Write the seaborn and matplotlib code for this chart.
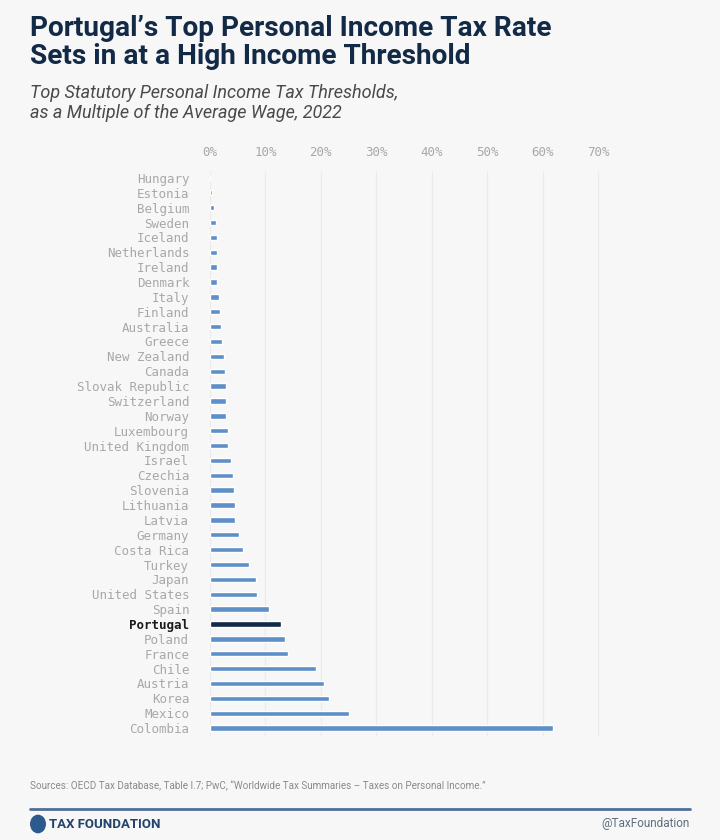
import matplotlib
matplotlib.use("Agg")
import matplotlib.pyplot as plt
import seaborn as sns
from matplotlib.patches import Circle
from matplotlib.lines import Line2D

# Top statutory PIT thresholds, top to bottom as in the chart
countries = [
    "Hungary", "Estonia", "Belgium", "Sweden", "Iceland", "Netherlands",
    "Ireland", "Denmark", "Italy", "Finland", "Australia", "Greece",
    "New Zealand", "Canada", "Slovak Republic", "Switzerland", "Norway",
    "Luxembourg", "United Kingdom", "Israel", "Czechia", "Slovenia",
    "Lithuania", "Latvia", "Germany", "Costa Rica", "Turkey", "Japan",
    "United States", "Spain", "Portugal", "Poland", "France", "Chile",
    "Austria", "Korea", "Mexico", "Colombia",
]
thresholds = [
    0.0, 0.3, 0.8, 1.1, 1.3, 1.3,
    1.2, 1.2, 1.6, 1.8, 1.9, 2.2,
    2.6, 2.7, 2.9, 2.9, 2.9,
    3.2, 3.2, 3.7, 4.1, 4.3,
    4.5, 4.6, 5.2, 6.0, 7.0, 8.3,
    8.5, 10.7, 12.9, 13.5, 14.0, 19.2,
    20.6, 21.5, 25.0, 61.9,
]
highlight = "Portugal"
x_ticks = [0, 10, 20, 30, 40, 50, 60, 70]
x_tick_labels = ["0%", "10%", "20%", "30%", "40%", "50%", "60%", "70%"]

BG = "#f7f7f7"
BAR = "#5f8fc8"
NAVY = "#132a47"
GRID = "#ebebeb"
LABEL = "#a8a8a8"

sns.set_theme(style="white")
plt.rcParams["font.family"] = ["Roboto", "DejaVu Sans"]

fig = plt.figure(figsize=(7.2, 8.4), dpi=100, facecolor=BG)
ax = fig.add_axes([210 / 720, 1 - 735.5 / 840, (609 - 210) / 720, (735.5 - 170.5) / 840])
ax.set_facecolor(BG)

palette = {c: (NAVY if c == highlight else BAR) for c in countries}
sns.barplot(x=thresholds, y=countries, hue=countries, palette=palette,
            legend=False, width=0.36, orient="h", saturation=1, ax=ax)

ax.set_xlim(0, 72)
ax.set_xticks(x_ticks)
ax.set_xticklabels(x_tick_labels)
ax.xaxis.tick_top()
ax.tick_params(axis="both", length=0, colors=LABEL, labelsize=9)
ax.tick_params(axis="x", pad=8)
ax.tick_params(axis="y", pad=15)
for lbl in ax.get_xticklabels() + ax.get_yticklabels():
    lbl.set_fontfamily("DejaVu Sans Mono")
    lbl.set_color(LABEL)
for lbl in ax.get_yticklabels():
    if lbl.get_text() == highlight:
        lbl.set_color("#1b1b1b")
        lbl.set_fontweight("bold")
ax.grid(axis="x", color=GRID, linewidth=0.9)
ax.set_axisbelow(True)
ax.set_xlabel("")
ax.set_ylabel("")
sns.despine(ax=ax, left=True, bottom=True, top=True, right=True)

# titles
fig.text(30 / 720, 1 - 15 / 840, "Portugal’s Top Personal Income Tax Rate\nSets in at a High Income Threshold",
         ha="left", va="top", fontsize=20.2, fontweight="bold", color=NAVY, linespacing=1.05)
fig.text(30 / 720, 1 - 84 / 840, "Top Statutory Personal Income Tax Thresholds,\nas a Multiple of the Average Wage, 2022",
         ha="left", va="top", fontsize=13, fontstyle="italic", color="#4a4a4a", linespacing=1.1)

# footer
fig.text(30 / 720, 1 - 786 / 840,
         "Sources: OECD Tax Database, Table I.7; PwC, \u201cWorldwide Tax Summaries \u2013 Taxes on Personal Income.\u201d",
         ha="left", va="center", fontsize=7.1, color="#8a8a8a")
fig.add_artist(Line2D([30 / 720, 690 / 720], [1 - 809 / 840, 1 - 809 / 840],
                      transform=fig.transFigure, color="#4f6f98", linewidth=2))
fig.add_artist(Circle((38 / 720, 1 - 824 / 840), 8 / 720, transform=fig.transFigure,
                      facecolor="#2d5a8c", edgecolor="none"))
fig.text(49 / 720, 1 - 824 / 840, "TAX FOUNDATION", ha="left", va="center",
         fontsize=9.5, fontweight="bold", color="#24446d")
fig.text(690 / 720, 1 - 824 / 840, "@TaxFoundation", ha="right", va="center",
         fontsize=8.5, color="#5f6f80")

fig.savefig("out.png", dpi=100, facecolor=BG)
